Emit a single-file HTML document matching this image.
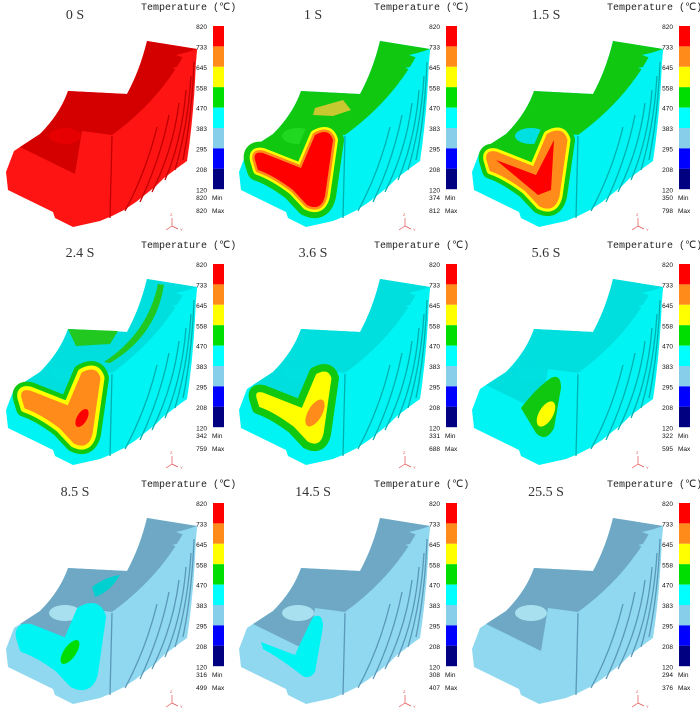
<!DOCTYPE html>
<html><head><meta charset="utf-8"><style>
html,body{margin:0;padding:0;background:#fff;}
svg{display:block;}
.t{font-family:"Liberation Serif",serif;font-size:14px;fill:#333;text-anchor:middle;}
.h{font-family:"Liberation Mono",monospace;font-size:10px;fill:#222;}
.l{font-family:"Liberation Sans",sans-serif;font-size:6.5px;fill:#111;text-anchor:end;}
.m{font-family:"Liberation Sans",sans-serif;font-size:6.5px;fill:#111;}
</style></head><body>
<svg width="700" height="714" viewBox="0 0 700 714" xmlns="http://www.w3.org/2000/svg">
<defs>
<path id="sil" d="M147,41 L197,49 L196,60 Q194,115 187,161 L180,166 L172,172 L164,178 L156,186 L146,194 L136,202 L124,210 L112,216 L100,221 L73,227 L55,218 L53,212 L8,190 L6,172 L14,151 L20,147 L40,134 Q60,114 68,91 L127,94 Q140,70 147,41 Z"/>
<path id="top" d="M68,91 L127,94 Q140,70 147,41 L197,49 L185,53 Q160,100 112,135 L82,131 L75,174 L20,147 L40,134 Q60,114 68,91 Z"/>
<path id="teeth" d="M176,55 L197,50 L196,62 Z M172,68 L195,63 L194,75 Z M166,81 L192,76 L190,88 Z M157,94 L187,89 L185,101 Z M146,106 L180,102 L178,114 Z M134,118 L170,114 L168,126 Z M121,129 L158,126 L156,138 Z"/>
<path id="fins" d="M194,62 Q192,115 183,160 M191,76 Q188,125 175,170 M186,90 Q182,140 165,180 M179,103 Q173,150 152,192 M169,115 Q160,160 140,202 M157,127 Q146,172 125,211 M112,136 L110,218"/>
<path id="L" d="M22,160 Q20,151 30,153 L68,168 L82,135 Q96,127 100,140 L92,196 Q88,212 74,205 L60,190 Q40,175 25,170 Z"/>
<g id="cb">
<rect x="213" y="26" width="11" height="20.4" fill="#ff0000"/>
<rect x="213" y="46.4" width="11" height="20.4" fill="#ff8c1a"/>
<rect x="213" y="66.8" width="11" height="20.4" fill="#ffff00"/>
<rect x="213" y="87.2" width="11" height="20.4" fill="#00dd00"/>
<rect x="213" y="107.6" width="11" height="20.4" fill="#00ffff"/>
<rect x="213" y="128" width="11" height="20.4" fill="#87ceeb"/>
<rect x="213" y="148.4" width="11" height="20.4" fill="#0000ff"/>
<rect x="213" y="168.8" width="11" height="20.4" fill="#000080"/>
<text class="l" x="207" y="29">820</text><text class="l" x="207" y="49.5">733</text>
<text class="l" x="207" y="69.9">645</text><text class="l" x="207" y="90.3">558</text>
<text class="l" x="207" y="110.7">470</text><text class="l" x="207" y="131.1">383</text>
<text class="l" x="207" y="151.5">295</text><text class="l" x="207" y="171.9">208</text>
<text class="l" x="207" y="192.3">120</text>
<text class="m" x="212" y="200">Min</text><text class="m" x="212" y="213">Max</text>
<text class="h" x="141" y="10">Temperature (℃)</text>
<g stroke="#e05050" stroke-width="0.7" fill="none"><path d="M172,218 L172,226 L166,230 M172,226 L178,229"/></g>
<text x="170" y="216" font-size="4" fill="#e05050" font-family="Liberation Sans">Z</text>
<text x="180" y="231" font-size="4" fill="#e05050" font-family="Liberation Sans">Y</text>
</g>
</defs>

<g transform="translate(0,0)">
<use href="#sil" fill="#ff1414"/><use href="#top" fill="#d40000"/>
<use href="#teeth" fill="#ff1414"/>
<ellipse cx="65" cy="136" rx="16" ry="8" fill="#e60000"/>
<use href="#fins" stroke="#c00000" stroke-width="1.3" fill="none"/>
<use href="#cb"/><text class="t" x="75" y="19">0 S</text>
<text class="l" x="207" y="200">820</text><text class="l" x="207" y="213">820</text>
</g>
<g transform="translate(233,0)">
<use href="#sil" fill="#00f4f4"/><use href="#top" fill="#10c810"/>
<use href="#teeth" fill="#00f4f4"/>
<path d="M82,108 L110,100 L118,110 L100,116 L80,115 Z" fill="#c8c830"/>
<ellipse cx="65" cy="136" rx="16" ry="8" fill="#20d820"/>
<use href="#fins" stroke="#00b0b0" stroke-width="1.3" fill="none"/>
<use href="#L" fill="#10c810" stroke="#10c810" stroke-width="22" stroke-linejoin="round"/>
<use href="#L" fill="#ffff00" stroke="#ffff00" stroke-width="10" stroke-linejoin="round"/>
<use href="#L" fill="#ff8c1a" stroke="#ff8c1a" stroke-width="5" stroke-linejoin="round"/>
<use href="#L" fill="#ff0000"/>
<use href="#cb"/><text class="t" x="80" y="19">1 S</text>
<text class="l" x="207" y="200">374</text><text class="l" x="207" y="213">812</text>
</g>
<g transform="translate(466,0)">
<use href="#sil" fill="#00f4f4"/><use href="#top" fill="#10c810"/>
<use href="#teeth" fill="#00f4f4"/>
<ellipse cx="65" cy="136" rx="16" ry="8" fill="#00e0e0"/>
<use href="#fins" stroke="#00b0b0" stroke-width="1.3" fill="none"/>
<use href="#L" fill="#10c810" stroke="#10c810" stroke-width="18" stroke-linejoin="round"/>
<use href="#L" fill="#ffff00" stroke="#ffff00" stroke-width="9" stroke-linejoin="round"/>
<use href="#L" fill="#ff8c1a" stroke="#ff8c1a" stroke-width="3" stroke-linejoin="round"/>
<path d="M30,160 L70,175 L88,140 L85,190 L72,195 Z" fill="#ff0000"/>
<use href="#cb"/><text class="t" x="80" y="19">1.5 S</text>
<text class="l" x="207" y="200">350</text><text class="l" x="207" y="213">798</text>
</g>
<g transform="translate(0,238)">
<use href="#sil" fill="#00f4f4"/><use href="#top" fill="#00dede"/>
<use href="#teeth" fill="#00f4f4"/>
<path d="M68,91 L118,93 L110,106 L76,108 Z" fill="#20c820"/>
<path d="M158,46 Q148,95 104,124 L110,125 Q156,98 164,47 Z" fill="#20c820"/>
<ellipse cx="65" cy="136" rx="16" ry="8" fill="#00e0e0"/>
<use href="#fins" stroke="#00b0b0" stroke-width="1.3" fill="none"/>
<use href="#L" fill="#10c810" stroke="#10c810" stroke-width="18" stroke-linejoin="round"/>
<use href="#L" fill="#ffff00" stroke="#ffff00" stroke-width="9" stroke-linejoin="round"/>
<use href="#L" fill="#ff8c1a" stroke="#ff8c1a" stroke-width="1"/>
<ellipse cx="82" cy="180" rx="5" ry="10" fill="#ff0000" transform="rotate(30 82 180)"/>
<use href="#cb"/><text class="t" x="80" y="19">2.4 S</text>
<text class="l" x="207" y="200">342</text><text class="l" x="207" y="213">759</text>
</g>
<g transform="translate(233,238)">
<use href="#sil" fill="#00f4f4"/><use href="#top" fill="#00dede"/>
<use href="#teeth" fill="#00f4f4"/>
<ellipse cx="65" cy="136" rx="16" ry="8" fill="#00e0e0"/>
<use href="#fins" stroke="#00b0b0" stroke-width="1.3" fill="none"/>
<use href="#L" fill="#10c810" stroke="#10c810" stroke-width="12" stroke-linejoin="round"/>
<use href="#L" fill="#ffff00" stroke="#10c810" stroke-width="3"/>
<ellipse cx="82" cy="175" rx="7" ry="15" fill="#ff8c1a" transform="rotate(30 82 175)"/>
<use href="#cb"/><text class="t" x="80" y="19">3.6 S</text>
<text class="l" x="207" y="200">331</text><text class="l" x="207" y="213">688</text>
</g>
<g transform="translate(466,238)">
<use href="#sil" fill="#00f4f4"/><use href="#top" fill="#00dede"/>
<use href="#teeth" fill="#00f4f4"/>
<ellipse cx="65" cy="136" rx="16" ry="8" fill="#00e0e0"/>
<use href="#fins" stroke="#00b0b0" stroke-width="1.3" fill="none"/>
<path d="M55,170 Q70,150 85,140 Q95,135 95,150 L88,190 Q80,205 70,195 Z" fill="#10c810"/>
<ellipse cx="80" cy="176" rx="7" ry="14" fill="#ffff00" transform="rotate(30 80 176)"/>
<use href="#cb"/><text class="t" x="80" y="19">5.6 S</text>
<text class="l" x="207" y="200">322</text><text class="l" x="207" y="213">595</text>
</g>
<g transform="translate(0,477)">
<use href="#sil" fill="#8fd8f0"/><use href="#top" fill="#6ea8c4"/>
<use href="#teeth" fill="#8fd8f0"/>
<path d="M92,110 Q105,100 120,98 Q110,115 95,120 Z" fill="#00d0d0"/>
<ellipse cx="65" cy="136" rx="16" ry="8" fill="#a8e0f0"/>
<use href="#fins" stroke="#5a98b8" stroke-width="1.3" fill="none"/>
<use href="#L" fill="#00f4f4" stroke="#00f4f4" stroke-width="12" stroke-linejoin="round"/>
<ellipse cx="70" cy="175" rx="6" ry="14" fill="#00dd00" transform="rotate(35 70 175)"/>
<use href="#cb"/><text class="t" x="75" y="19">8.5 S</text>
<text class="l" x="207" y="200">316</text><text class="l" x="207" y="213">499</text>
</g>
<g transform="translate(233,477)">
<use href="#sil" fill="#8fd8f0"/><use href="#top" fill="#6ea8c4"/>
<use href="#teeth" fill="#8fd8f0"/>
<ellipse cx="65" cy="136" rx="16" ry="8" fill="#a8e0f0"/>
<use href="#fins" stroke="#5a98b8" stroke-width="1.3" fill="none"/>
<path d="M28,165 L62,178 Q70,160 80,140 Q90,135 90,150 L82,195 Q75,205 66,196 Q45,180 30,172 Z" fill="#00f4f4"/>
<use href="#cb"/><text class="t" x="80" y="19">14.5 S</text>
<text class="l" x="207" y="200">308</text><text class="l" x="207" y="213">407</text>
</g>
<g transform="translate(466,477)">
<use href="#sil" fill="#8fd8f0"/><use href="#top" fill="#6ea8c4"/>
<use href="#teeth" fill="#8fd8f0"/>
<ellipse cx="65" cy="136" rx="16" ry="8" fill="#a8e0f0"/>
<use href="#fins" stroke="#5a98b8" stroke-width="1.3" fill="none"/>
<use href="#cb"/><text class="t" x="80" y="19">25.5 S</text>
<text class="l" x="207" y="200">294</text><text class="l" x="207" y="213">376</text>
</g>
</svg>
</body></html>
